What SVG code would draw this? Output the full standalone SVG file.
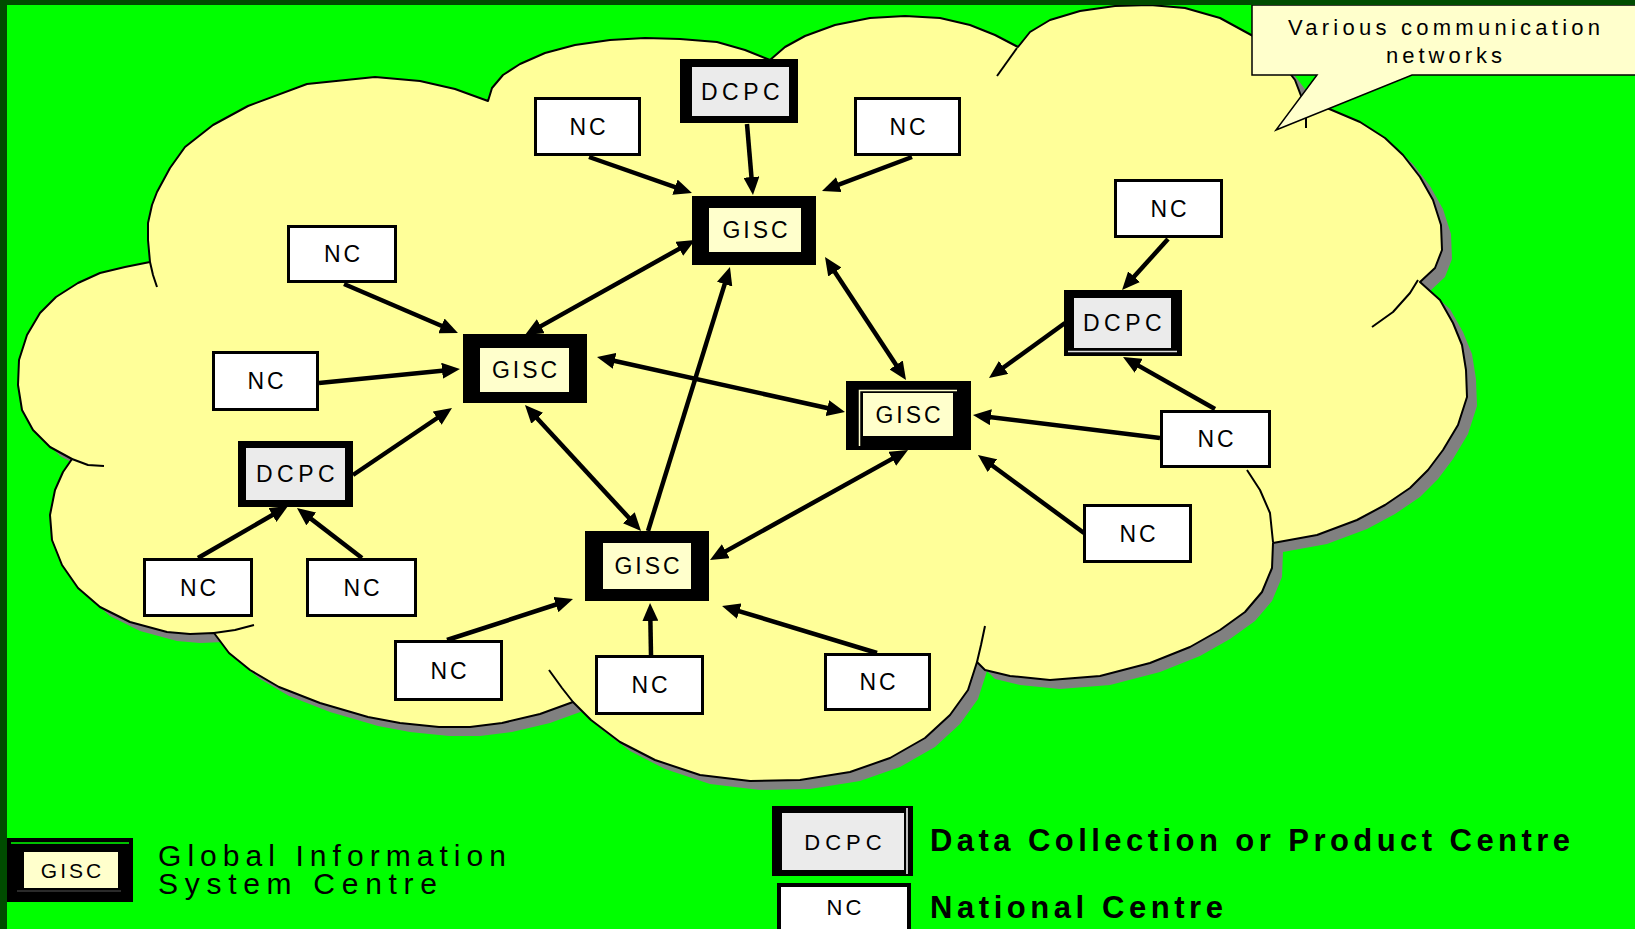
<svg xmlns="http://www.w3.org/2000/svg" width="1635" height="929" viewBox="0 0 1635 929">
<style>
.lbl{font-family:"Liberation Sans",Arial,sans-serif;font-size:23px;fill:#000;text-anchor:middle;letter-spacing:3px}
.nc rect{fill:#fff;stroke:#000;stroke-width:3}
.gb{fill:#000}
.gi{fill:#ffffcc}
.di{fill:#ebebeb}
.conn path{fill:none;stroke:#000;stroke-width:4.5}
.arc{fill:none;stroke:#000;stroke-width:2;stroke-linejoin:round}
.leg{font-family:"Liberation Sans",Arial,sans-serif;font-size:30px;fill:#000}
</style>
<defs>
<marker id="ah" viewBox="0 0 18 16" refX="10" refY="8" markerWidth="18" markerHeight="16" markerUnits="userSpaceOnUse" orient="auto-start-reverse"><path d="M0,0 L18,8 L0,16 z" fill="#000"/></marker>
<path id="cloudShape" d="M150,262 L148,240 148,223 152,205 157,192 170,168 185,147 213,125 248,106 307,84 375,77 420,81 455,89 488,101 L492,88 503,75 520,64 545,53 575,45 610,40 645,38 680,39 717,42 745,50 770,60 L785,47 805,36 835,25 870,18 905,16 940,18 970,25 995,35 1018,47 L1030,32 1050,20 1080,11 1115,6 1150,5 1185,8 1220,18 1253,36 1278,58 1295,80 1303,101 L1327,108 1360,122 1385,138 1403,155 1420,177 1433,200 1441,225 1442,250 1435,268 1420,282 L1440,300 1453,323 1462,345 1466,370 1467,397 1458,425 1443,450 1428,470 1410,488 1385,505 1357,520 1317,535 1273,543 L1272,568 1262,592 1245,612 1220,630 1190,647 1150,663 1100,676 1050,680 1010,676 985,670 977,662 L968,690 950,715 925,738 890,758 850,772 800,780 750,781 700,775 655,760 620,742 591,720 573,702 L540,714 502,723 470,727 439,727 400,723 368,717 320,703 279,687 250,670 229,653 214,633 L190,634 167,632 130,622 100,607 78,588 62,565 52,540 50,515 55,490 63,472 72,459 L50,447 33,430 22,410 18,385 19,360 27,335 40,313 56,297 78,283 100,273 125,267 Z"/>
</defs>
<rect x="0" y="0" width="1635" height="929" fill="#00ff00"/>
<g id="cloud">
<use href="#cloudShape" transform="translate(10,9)" fill="#808080"/>
<use href="#cloudShape" fill="#ffff99" stroke="#000" stroke-width="2" stroke-linejoin="round"/>
<polyline class="arc" points="150,262 153,275 157,287"/>
<polyline class="arc" points="1017,48 1007,62 997,76"/>
<polyline class="arc" points="1303,101 1306,115 1306,128"/>
<polyline class="arc" points="1418,280 1410,293 1393,312 1372,327"/>
<polyline class="arc" points="1273,542 1270,513 1260,490 1247,470"/>
<polyline class="arc" points="977,662 981,645 985,626"/>
<polyline class="arc" points="573,702 562,688 549,670"/>
<polyline class="arc" points="214,633 235,630 254,625"/>
<polyline class="arc" points="72,459 88,465 104,466"/>
</g>
<g id="callout">
<path d="M1252,5 L1640,5 L1640,75 L1412,75 L1276,130 L1317,75 L1252,75 Z" fill="#ffffcc" stroke="#000" stroke-width="1.5" stroke-linejoin="miter"/>
<text x="1288" y="35" font-family="Liberation Sans, Arial, sans-serif" font-size="22" textLength="312" lengthAdjust="spacing">Various communication</text>
<text x="1386" y="63" font-family="Liberation Sans, Arial, sans-serif" font-size="22" textLength="116" lengthAdjust="spacing">networks</text>
</g>
<g id="connectors" class="conn">
<path d="M589,157 L684.4,190.4" marker-end="url(#ah)"/>
<path d="M747,124 L752.3,187" marker-end="url(#ah)"/>
<path d="M912,157 L829.5,188.2" marker-end="url(#ah)"/>
<path d="M688,243.9 L532,331.1" marker-start="url(#ah)" marker-end="url(#ah)"/>
<path d="M648,531 L727.6,274.6" marker-end="url(#ah)"/>
<path d="M829.4,263.7 L901.6,373.3" marker-start="url(#ah)" marker-end="url(#ah)"/>
<path d="M604.8,358.7 L837.2,410.3" marker-start="url(#ah)" marker-end="url(#ah)"/>
<path d="M717,556.1 L901,453.9" marker-start="url(#ah)" marker-end="url(#ah)"/>
<path d="M530.4,410.9 L635.6,525.1" marker-start="url(#ah)" marker-end="url(#ah)"/>
<path d="M344,284 L450.6,329.8" marker-end="url(#ah)"/>
<path d="M319,383 L452,369.8" marker-end="url(#ah)"/>
<path d="M353,475 L445.4,412.5" marker-end="url(#ah)"/>
<path d="M198,558 L281.1,510" marker-end="url(#ah)"/>
<path d="M362,558 L303.3,512.9" marker-end="url(#ah)"/>
<path d="M447,640 L565.4,601.5" marker-end="url(#ah)"/>
<path d="M651,655 L650.2,611" marker-end="url(#ah)"/>
<path d="M877,653 L729.7,608.3" marker-end="url(#ah)"/>
<path d="M1084,533 L984.4,459.7" marker-end="url(#ah)"/>
<path d="M1160,438 L980.9,416" marker-end="url(#ah)"/>
<path d="M1215,409 L1130,360.9" marker-end="url(#ah)"/>
<path d="M1168,239 L1127.4,284.1" marker-end="url(#ah)"/>
<path d="M1065,323 L995.5,373.3" marker-end="url(#ah)"/>
</g>
<g id="gisc-top"><rect class="gb" x="692" y="196" width="124" height="69"/><rect class="gi" x="709" y="208" width="92" height="44"/><text class="lbl" x="756.5" y="238">GISC</text></g>
<g id="gisc-left"><rect class="gb" x="463" y="334" width="124" height="69"/><rect class="gi" x="480" y="348" width="89" height="44"/><text class="lbl" x="526" y="378">GISC</text></g>
<g id="gisc-right"><rect class="gb" x="846" y="381" width="125" height="69"/><rect class="gi" x="863" y="393" width="90" height="43"/><polyline points="859.5,446 859.5,390.5 957,390.5" fill="none" stroke="#ffffcc" stroke-width="1.5"/><text class="lbl" x="909.5" y="423">GISC</text></g>
<g id="gisc-bottom"><rect class="gb" x="585" y="531" width="124" height="70"/><rect class="gi" x="603" y="543" width="88" height="46"/><text class="lbl" x="648.5" y="574">GISC</text></g>
<g id="dcpc-top"><rect class="gb" x="680" y="59" width="118" height="64"/><rect class="di" x="692" y="67" width="97" height="49"/><text class="lbl" x="742.5" y="100" style="letter-spacing:4.5px">DCPC</text></g>
<g id="dcpc-right"><rect class="gb" x="1064" y="290" width="118" height="66"/><rect class="di" x="1074" y="298" width="97" height="50"/><line x1="1068" y1="351.5" x2="1177" y2="351.5" stroke="#ddd" stroke-width="1.5"/><text class="lbl" x="1124.5" y="331" style="letter-spacing:4.5px">DCPC</text></g>
<g id="dcpc-left"><rect class="gb" x="238" y="441" width="115" height="66"/><rect class="di" x="246" y="448" width="99" height="52"/><text class="lbl" x="297.5" y="482" style="letter-spacing:4.5px">DCPC</text></g>
<g id="nc1" class="nc"><rect x="535.5" y="98.5" width="104" height="56"/><text class="lbl" x="589" y="134.5">NC</text></g>
<g id="nc2" class="nc"><rect x="855.5" y="98.5" width="104" height="56"/><text class="lbl" x="909" y="134.5">NC</text></g>
<g id="nc3" class="nc"><rect x="288.5" y="226.5" width="107" height="55"/><text class="lbl" x="343.5" y="262">NC</text></g>
<g id="nc4" class="nc"><rect x="213.5" y="352.5" width="104" height="57"/><text class="lbl" x="267" y="389">NC</text></g>
<g id="nc5" class="nc"><rect x="144.5" y="559.5" width="107" height="56"/><text class="lbl" x="199.5" y="595.5">NC</text></g>
<g id="nc6" class="nc"><rect x="307.5" y="559.5" width="108" height="56"/><text class="lbl" x="363" y="595.5">NC</text></g>
<g id="nc7" class="nc"><rect x="395.5" y="641.5" width="106" height="58"/><text class="lbl" x="450" y="678.5">NC</text></g>
<g id="nc8" class="nc"><rect x="596.5" y="656.5" width="106" height="57"/><text class="lbl" x="651" y="693">NC</text></g>
<g id="nc9" class="nc"><rect x="825.5" y="654.5" width="104" height="55"/><text class="lbl" x="879" y="690">NC</text></g>
<g id="nc10" class="nc"><rect x="1084.5" y="505.5" width="106" height="56"/><text class="lbl" x="1139" y="541.5">NC</text></g>
<g id="nc11" class="nc"><rect x="1161.5" y="411.5" width="108" height="55"/><text class="lbl" x="1217" y="447">NC</text></g>
<g id="nc12" class="nc"><rect x="1115.5" y="180.5" width="106" height="56"/><text class="lbl" x="1170" y="216.5">NC</text></g>
<g id="legend-gisc"><rect class="gb" x="7" y="838" width="126" height="64"/><rect class="gi" x="24" y="852" width="94" height="36"/><line x1="11" y1="843" x2="129" y2="843" stroke="#00ff00" stroke-width="1.5"/><line x1="17" y1="891" x2="121" y2="891" stroke="#555" stroke-width="1"/><text class="lbl" x="72.5" y="878" style="font-size:21px">GISC</text>
<text class="leg" x="158" y="866" textLength="348" lengthAdjust="spacing">Global Information</text>
<text class="leg" x="158" y="894" textLength="279" lengthAdjust="spacing">System Centre</text></g>
<g id="legend-dcpc"><rect class="gb" x="772" y="806" width="141" height="70"/><rect class="di" x="782" y="813" width="122" height="57"/><line x1="907" y1="808" x2="907" y2="874" stroke="#fff" stroke-width="1.5"/><text class="lbl" x="845.5" y="850" style="font-size:22px;letter-spacing:5px">DCPC</text>
<text class="leg" x="930" y="851" font-weight="bold" style="font-size:31px" textLength="640" lengthAdjust="spacing">Data Collection or Product Centre</text></g>
<g id="legend-nc"><rect x="779" y="885" width="130" height="60" fill="#fff" stroke="#000" stroke-width="4"/><text class="lbl" x="845.5" y="915" style="font-size:22px">NC</text>
<text class="leg" x="930" y="918" font-weight="bold" style="font-size:31px" textLength="293" lengthAdjust="spacing">National Centre</text></g>
<rect x="0" y="0" width="7" height="929" fill="#004c00"/>
<rect x="0" y="0" width="1635" height="5" fill="#004c00"/>
</svg>
